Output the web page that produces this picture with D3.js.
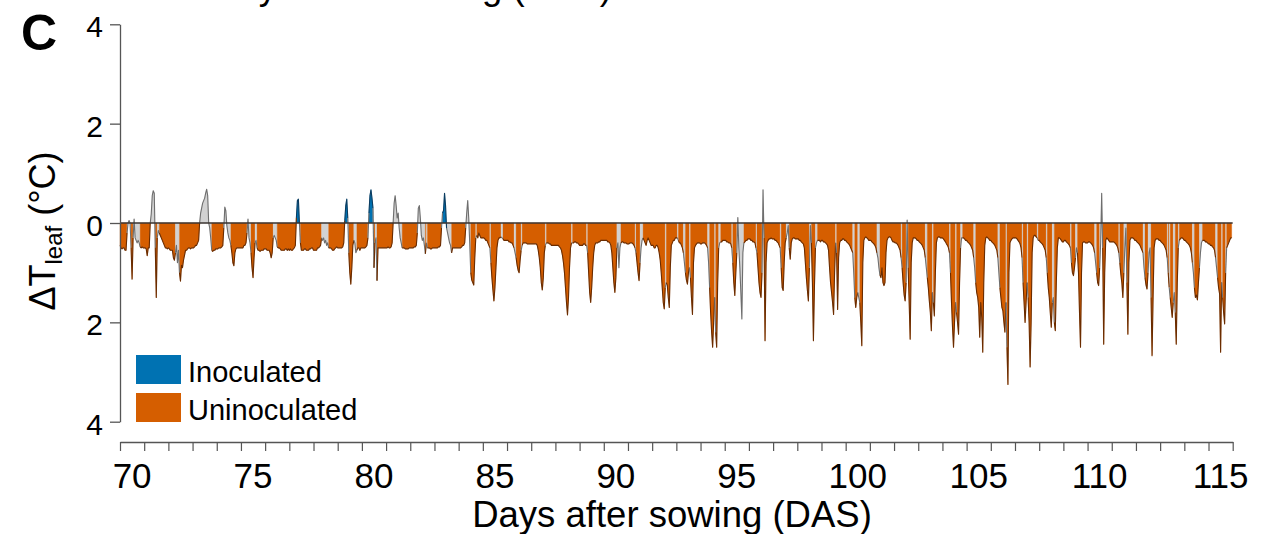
<!DOCTYPE html>
<html><head><meta charset="utf-8">
<script src="https://cdn.jsdelivr.net/npm/d3@7"></script>
<style>
body{margin:0;background:#fff}
svg{display:block}
text{font-family:"Liberation Sans",Arial,Helvetica,sans-serif;fill:#000}
</style>
</head><body>
<svg id="chart" width="1263" height="534"></svg>
<script>
// ---- data (hourly ΔT_leaf per day, °C) ----
const days = d3.range(70, 116);
const deltaT = [
/*70*/[-0.45,-0.5,-0.52,-0.5,-0.5,-0.55,-0.55,-0.2,0.0,0.05,0.0,-0.5,-1.13,-0.3,0.08,-0.3,-0.35,-0.4,-0.35,-0.4,-0.48,-0.5,-0.48,-0.5],
/*71*/[-0.5,-0.5,-0.52,-0.66,-0.5,-0.5,0.0,0.18,0.55,0.65,0.6,-0.5,-1.5,-0.3,-0.15,-0.2,-0.25,-0.3,-0.35,-0.4,-0.45,-0.5,-0.5,-0.52],
/*72*/[-0.5,-0.52,-0.55,-0.55,-0.55,-0.7,-0.75,-0.6,-0.45,-0.8,-0.55,-1.0,-1.17,-0.85,-0.9,-0.75,-0.65,-0.55,-0.55,-0.52,-0.5,-0.5,-0.52,-0.5],
/*73*/[-0.5,-0.5,-0.48,-0.45,-0.45,-0.4,-0.35,0.0,0.2,0.3,0.4,0.45,0.5,0.6,0.68,0.55,0.0,-0.1,-0.3,-0.55,-0.57,-0.55,-0.55,-0.52],
/*74*/[-0.52,-0.52,-0.5,-0.5,-0.5,-0.48,-0.45,-0.1,0.32,0.25,-0.05,-0.2,-0.3,-0.35,-0.45,-0.6,-0.8,-0.86,-0.6,-0.52,-0.5,-0.5,-0.5,-0.5],
/*75*/[-0.5,-0.5,-0.5,-0.45,-0.45,-0.4,-0.2,0.08,-0.3,-0.4,-0.6,-0.9,-1.1,-0.7,-0.4,-0.35,-0.5,-0.55,-0.55,-0.57,-0.55,-0.55,-0.55,-0.52],
/*76*/[-0.52,-0.52,-0.55,-0.55,-0.55,-0.6,-0.7,-0.6,-0.3,-0.25,-0.3,-0.35,-0.48,-0.5,-0.5,-0.52,-0.55,-0.55,-0.55,-0.55,-0.52,-0.52,-0.55,-0.52],
/*77*/[-0.55,-0.52,-0.55,-0.55,-0.52,-0.5,-0.45,0.1,0.45,0.48,0.0,-0.4,-0.55,-0.55,-0.55,-0.52,-0.52,-0.55,-0.55,-0.55,-0.52,-0.52,-0.5,-0.5],
/*78*/[-0.55,-0.55,-0.55,-0.55,-0.5,-0.5,-0.48,-0.45,-0.3,-0.35,-0.3,-0.4,-0.35,-0.45,-0.4,-0.5,-0.5,-0.5,-0.52,-0.55,-0.55,-0.52,-0.5,-0.48],
/*79*/[-0.5,-0.5,-0.5,-0.5,-0.5,-0.48,-0.4,0.05,0.35,0.48,0.1,-0.6,-1.0,-1.23,-0.9,-0.45,-0.35,-0.4,-0.6,-0.55,-0.5,-0.5,-0.55,-0.5],
/*80*/[-0.5,-0.5,-0.5,-0.5,-0.48,-0.45,-0.3,0.2,0.55,0.67,0.5,0.3,-0.9,-0.4,-0.3,-1.16,-0.5,-0.5,-0.5,-0.5,-0.5,-0.5,-0.5,-0.5],
/*81*/[-0.5,-0.5,-0.48,-0.5,-0.5,-0.48,-0.4,0.0,0.4,0.55,0.35,0.1,0.2,-0.1,-0.3,-0.4,-0.5,-0.5,-0.5,-0.52,-0.52,-0.52,-0.52,-0.5],
/*82*/[-0.5,-0.5,-0.5,-0.5,-0.48,-0.48,-0.45,-0.2,0.3,0.35,0.1,-0.25,-0.35,-0.3,-0.45,-0.62,-0.4,-0.5,-0.5,-0.5,-0.52,-0.52,-0.5,-0.5],
/*83*/[-0.5,-0.5,-0.5,-0.5,-0.48,-0.48,-0.45,-0.1,0.2,0.25,0.6,0.35,-0.1,-0.2,-0.3,-0.4,-0.45,-0.6,-0.5,-0.5,-0.5,-0.5,-0.5,-0.5],
/*84*/[-0.5,-0.5,-0.5,-0.48,-0.45,-0.45,-0.4,-0.1,0.2,0.45,0.1,-0.4,-1.0,-1.15,-1.2,-1.25,-0.7,-0.3,-0.25,-0.3,-0.2,-0.25,-0.3,-0.3],
/*85*/[-0.3,-0.3,-0.32,-0.35,-0.35,-0.4,-0.45,-0.5,-0.8,-1.1,-1.35,-1.57,-1.3,-0.9,-0.5,-0.35,-0.3,-0.3,-0.28,-0.3,-0.32,-0.35,-0.35,-0.35],
/*86*/[-0.35,-0.35,-0.38,-0.38,-0.4,-0.4,-0.45,-0.5,-0.6,-0.7,-0.85,-0.95,-1.0,-0.75,-0.55,-0.45,-0.4,-0.4,-0.4,-0.4,-0.42,-0.42,-0.42,-0.42],
/*87*/[-0.42,-0.42,-0.42,-0.42,-0.42,-0.42,-0.45,-0.55,-0.7,-0.9,-1.2,-1.35,-1.1,-0.6,-0.45,-0.4,-0.4,-0.4,-0.42,-0.42,-0.45,-0.45,-0.45,-0.45],
/*88*/[-0.45,-0.45,-0.45,-0.45,-0.48,-0.5,-0.55,-0.65,-0.8,-1.0,-1.3,-1.6,-1.85,-1.5,-0.9,-0.5,-0.4,-0.4,-0.4,-0.38,-0.38,-0.4,-0.4,-0.42],
/*89*/[-0.45,-0.45,-0.45,-0.45,-0.42,-0.42,-0.45,-0.45,-0.6,-1.0,-1.4,-1.6,-1.3,-0.9,-0.6,-0.45,-0.4,-0.4,-0.4,-0.38,-0.38,-0.35,-0.35,-0.35],
/*90*/[-0.35,-0.35,-0.35,-0.35,-0.38,-0.38,-0.4,-0.45,-0.6,-0.9,-1.2,-1.4,-1.1,-0.5,-0.4,-0.9,-0.5,-0.4,-0.38,-0.38,-0.4,-0.4,-0.4,-0.42],
/*91*/[-0.42,-0.42,-0.4,-0.4,-0.4,-0.42,-0.45,-0.5,-0.6,-0.8,-1.0,-1.16,-0.8,-0.5,-0.35,-0.3,-0.35,-0.4,-0.45,-0.35,-0.3,-0.35,-0.4,-0.45],
/*92*/[-0.45,-0.45,-0.5,-0.5,-0.45,-0.45,-0.5,-0.6,-0.75,-1.0,-1.3,-1.6,-1.73,-1.3,-1.2,-1.25,-1.5,-1.7,-0.9,-0.45,-0.4,-0.35,-0.35,-0.3],
/*93*/[-0.3,-0.3,-0.35,-0.4,-0.4,-0.45,-0.5,-0.6,-0.8,-1.0,-1.15,-1.23,-1.0,-0.9,-1.1,-1.5,-1.84,-0.8,-0.5,-0.45,-0.42,-0.4,-0.4,-0.4],
/*94*/[-0.42,-0.42,-0.4,-0.4,-0.4,-0.42,-0.45,-0.5,-0.8,-1.3,-1.8,-2.2,-2.5,-2.0,-1.5,-2.2,-2.5,-1.2,-0.5,-0.4,-0.38,-0.38,-0.35,-0.35],
/*95*/[-0.35,-0.35,-0.38,-0.38,-0.4,-0.4,-0.42,-0.5,-0.8,-1.2,-1.46,-1.0,-0.6,0.11,-0.5,-0.9,-1.4,-1.93,-0.6,-0.4,-0.38,-0.35,-0.35,-0.32],
/*96*/[-0.32,-0.32,-0.35,-0.35,-0.38,-0.38,-0.4,-0.5,-0.6,-0.9,-1.2,-1.4,-1.5,-1.0,0.67,-0.3,-2.37,-0.8,-0.4,-0.35,-0.32,-0.32,-0.3,-0.32],
/*97*/[-0.32,-0.32,-0.35,-0.35,-0.38,-0.4,-0.45,-0.5,-0.9,-1.3,-1.36,-0.8,-0.4,-0.3,-0.2,-0.05,-0.5,-0.73,-0.4,-0.32,-0.3,-0.3,-0.32,-0.32],
/*98*/[-0.32,-0.32,-0.35,-0.35,-0.38,-0.4,-0.42,-0.5,-0.8,-1.1,-1.35,-1.57,-0.9,-0.05,-0.4,-1.2,-2.37,-1.3,-0.5,-0.4,-0.35,-0.35,-0.35,-0.38],
/*99*/[-0.35,-0.35,-0.38,-0.38,-0.4,-0.42,-0.45,-0.55,-0.9,-1.2,-1.4,-1.6,-1.84,-1.0,-0.4,-0.6,-1.74,-0.7,-0.4,-0.35,-0.35,-0.32,-0.32,-0.35],
/*100*/[-0.35,-0.38,-0.4,-0.42,-0.45,-0.5,-0.55,-0.6,-1.0,-1.5,-1.7,-1.5,-1.4,-1.5,-1.6,-2.0,-2.47,-0.8,-0.35,-0.3,-0.28,-0.3,-0.32,-0.35],
/*101*/[-0.35,-0.35,-0.38,-0.4,-0.42,-0.45,-0.5,-0.6,-0.7,-0.9,-1.05,-1.1,-0.9,-1.2,-1.26,-1.2,-0.6,-0.35,-0.3,-0.28,-0.28,-0.3,-0.35,-0.38],
/*102*/[-0.38,-0.4,-0.4,-0.42,-0.45,-0.5,-0.55,-0.7,-0.9,-1.2,-1.45,-1.57,-1.2,0.06,-0.9,-1.6,-2.34,-0.8,-0.4,-0.3,-0.3,-0.3,-0.32,-0.35],
/*103*/[-0.35,-0.38,-0.4,-0.42,-0.45,-0.5,-0.55,-0.7,-0.9,-1.1,-1.3,-1.57,-1.8,-2.17,-1.4,-1.6,-1.87,-1.0,-0.4,-0.3,-0.28,-0.28,-0.3,-0.3],
/*104*/[-0.3,-0.32,-0.35,-0.38,-0.42,-0.45,-0.5,-0.6,-1.0,-1.6,-2.1,-2.5,-2.0,-1.6,-1.8,-2.0,-2.24,-1.2,-0.5,-0.3,-0.3,-0.3,-0.32,-0.35],
/*105*/[-0.35,-0.38,-0.4,-0.42,-0.45,-0.5,-0.55,-0.7,-0.9,-1.2,-1.4,-1.5,-1.7,-2.3,-1.6,-1.9,-2.6,-1.2,-0.45,-0.3,-0.28,-0.3,-0.32,-0.35],
/*106*/[-0.35,-0.38,-0.4,-0.42,-0.45,-0.5,-0.55,-0.7,-1.0,-1.3,-1.5,-1.7,-1.77,-2.0,-2.2,-1.6,-2.5,-3.25,-1.0,-0.4,-0.35,-0.32,-0.3,-0.3],
/*107*/[-0.3,-0.3,-0.32,-0.35,-0.38,-0.42,-0.5,-0.7,-1.2,-1.6,-2.0,-1.6,-1.2,-1.5,-2.0,-2.9,-2.0,-0.6,-0.3,-0.25,-0.25,-0.28,-0.3,-0.35],
/*108*/[-0.35,-0.38,-0.4,-0.42,-0.45,-0.5,-0.55,-0.7,-1.0,-1.3,-1.5,-1.8,-2.1,-1.6,-1.5,-2.0,-2.17,-1.2,-0.5,-0.3,-0.3,-0.32,-0.35,-0.38],
/*109*/[-0.38,-0.35,-0.35,-0.38,-0.4,-0.42,-0.45,-0.5,-0.8,-1.0,-1.06,-0.9,-0.7,-0.5,-0.6,-1.0,-1.8,-2.5,-1.0,-0.4,-0.38,-0.38,-0.4,-0.4],
/*110*/[-0.4,-0.38,-0.38,-0.4,-0.42,-0.45,-0.5,-0.6,-0.8,-1.0,-1.2,-1.26,-0.9,-0.4,0.6,-0.5,-2.44,-1.0,-0.35,-0.3,-0.32,-0.35,-0.38,-0.38],
/*111*/[-0.38,-0.38,-0.38,-0.4,-0.42,-0.45,-0.5,-0.6,-0.8,-1.03,-1.2,-1.5,-1.0,-0.5,-0.1,-1.2,-2.24,-0.8,-0.35,-0.3,-0.3,-0.3,-0.32,-0.35],
/*112*/[-0.35,-0.38,-0.4,-0.42,-0.45,-0.5,-0.55,-0.6,-0.9,-1.1,-1.25,-1.33,-1.0,-0.6,-0.5,-1.5,-2.67,-1.5,-0.5,-0.35,-0.32,-0.32,-0.32,-0.35],
/*113*/[-0.35,-0.38,-0.4,-0.42,-0.45,-0.5,-0.55,-0.7,-1.0,-1.3,-1.5,-1.7,-1.9,-1.6,-1.4,-1.8,-2.44,-1.2,-0.5,-0.35,-0.32,-0.3,-0.3,-0.32],
/*114*/[-0.35,-0.35,-0.38,-0.4,-0.42,-0.45,-0.5,-0.6,-0.8,-1.0,-1.3,-1.5,-1.45,-1.55,-1.2,-0.9,-0.6,-0.4,-0.35,-0.35,-0.35,-0.38,-0.38,-0.4],
/*115*/[-0.42,-0.42,-0.45,-0.45,-0.48,-0.5,-0.55,-0.7,-0.9,-1.1,-1.3,-1.43,-2.6,-1.2,-1.5,-1.8,-2.03,-1.0,-0.5,-0.45,-0.4,-0.35,-0.3,-0.3]
];
// 1 = significant difference (coloured), 0 = not significant (grey)
const signif = [
"111111100001100000001111","111111000001100111111111","111111100001111111111111","111111100000000000011111",
"111111100000001111111111","111111000011110011111111","111111110000111111111111","111111111101111111111111",
"111111110000000111111111","111111111101111100011111","111111011110100111111111","111111100000000011111111",
"111111100000000101111111","111111101111000001111111","111111100000111110111111","111111101111111111001111",
"111111100111110111111111","111111111111110111111111","111111111111111101111111","111111101111111111111111",
"111111111111100001111111","111111101111000111111111","111111111111101111111111","101111100111101111111111",
"111111100111110111001111","111111101111000000011111","111111101111100111111111","111111101111100011111111",
"111111111111001111001111","111111111111110111111111","111111100111001111111111","111111100011111111111111",
"111111101111001111111111","111111100111110111111111","111111101111101111001111","111111100111111111111111",
"111111100111111011111111","111111101111011111111101","111111101111100111111111","111111101111001111111111",
"111111100111000111111111","111111101111000111111111","111111100111000111111111","111111101011100111011111",
"111111110011111000111111","111111100111101110111111"
];
const xTickLabels = [70, 75, 80, 85, 90, 95, 100, 105, 110, 115];
const yTicks = [4, 2, 0, -2, -4];
const legendLabels = ["Inoculated", "Uninoculated"];

const fillColor = {pos: "#0072B2", neg: "#D55E00", ns: "#d2d2d2"};
const lineColor = {pos: "#0b3c60", neg: "#6a2c00", ns: "#6e6e6e"};

// ---- scales ----
const svg = d3.select("#chart");
const x = d3.scaleLinear().domain([70, 116]).range([120, 1232.7]);
const y = d3.scaleLinear().domain([-4, 4]).range([421.7, 24.3]);

// ---- points & runs ----
const pts = [];
days.forEach((d, i) => deltaT[i].forEach((v, h) => pts.push({t: d + h / 24, v: v, s: signif[i][h] === "1"})));
const runs = [];
for (let k = 0; k < pts.length - 1; k++) {
  const c = !pts[k].s ? "ns" : (pts[k].v + pts[k + 1].v >= 0 ? "pos" : "neg");
  const last = runs[runs.length - 1];
  if (last && last.c === c) last.b = k + 1;
  else runs.push({c: c, a: k, b: k + 1});
}
const area = d3.area().x(p => x(p.t)).y0(y(0)).y1(p => y(p.v));
const line = d3.line().x(p => x(p.t)).y(p => y(p.v));

const g = svg.append("g");
g.selectAll("path.fill").data(runs).join("path")
  .attr("class", "fill")
  .attr("d", r => area(pts.slice(r.a, r.b + 1)))
  .attr("fill", r => fillColor[r.c])
  .attr("stroke", r => fillColor[r.c]).attr("stroke-width", 0.3);
g.selectAll("path.ln").data(runs).join("path")
  .attr("class", "ln")
  .attr("d", r => line(pts.slice(r.a, r.b + 1)))
  .attr("fill", "none")
  .attr("stroke", r => lineColor[r.c])
  .attr("stroke-width", 1.1)
  .attr("stroke-linejoin", "round");

// zero line
svg.append("line")
  .attr("x1", x(70)).attr("x2", x(116))
  .attr("y1", y(0)).attr("y2", y(0))
  .attr("stroke", "#3b3430").attr("stroke-width", 1.4);

// ---- axes ----
const yAxis = d3.axisLeft(y).tickValues(yTicks).tickFormat(d => Math.abs(d))
  .tickSize(10).tickSizeOuter(0).tickPadding(7);
const gy = svg.append("g").attr("transform", "translate(120,0)").call(yAxis);
gy.select(".domain").attr("stroke", "#555").attr("stroke-width", 1.3);
gy.selectAll(".tick line").attr("stroke", "#555").attr("stroke-width", 1.3);
gy.selectAll(".tick text").attr("font-size", 30).attr("font-family", "Liberation Sans, Arial, sans-serif")
  .attr("fill", "#000").attr("dy", "0.42em");

const xAxis = d3.axisBottom(x).tickValues(d3.range(70, 117)).tickFormat("")
  .tickSize(9).tickSizeOuter(0);
const gx = svg.append("g").attr("transform", "translate(0,442)").call(xAxis);
gx.select(".domain").attr("stroke", "#555").attr("stroke-width", 1.3);
gx.selectAll(".tick line").attr("stroke", "#555").attr("stroke-width", 1.2);

svg.append("g").selectAll("text").data(xTickLabels).join("text")
  .attr("x", d => x(d + 0.5)).attr("y", 488)
  .attr("text-anchor", "middle").attr("font-size", 35)
  .text(d => d);

// ---- titles ----
svg.append("text").attr("x", 672).attr("y", 527).attr("text-anchor", "middle")
  .attr("font-size", 36.5).text("Days after sowing (DAS)");
// title of the panel above, cropped at the top edge as in the reference
svg.append("text").attr("x", 412).attr("y", -1).attr("text-anchor", "middle")
  .attr("font-size", 36.5).text("Days after sowing (DAS)");

const yt = svg.append("text").attr("transform", "translate(55,231) rotate(-90)")
  .attr("text-anchor", "middle").attr("font-size", 36);
yt.append("tspan").text("ΔT");
yt.append("tspan").attr("font-size", 24).attr("dy", 7).text("leaf");
yt.append("tspan").attr("dy", -7).text(" (°C)");

svg.append("text").attr("x", 21).attr("y", 50).attr("font-size", 50)
  .attr("font-weight", "bold").text("C");

// ---- legend ----
const leg = svg.append("g").selectAll("g").data(legendLabels).join("g")
  .attr("transform", (d, i) => `translate(136,${355 + i * 38})`);
leg.append("rect").attr("width", 45).attr("height", 29)
  .attr("fill", (d, i) => i === 0 ? fillColor.pos : fillColor.neg);
leg.append("text").attr("x", 52).attr("y", 26.5).attr("font-size", 29).text(d => d);
</script>
</body></html>
